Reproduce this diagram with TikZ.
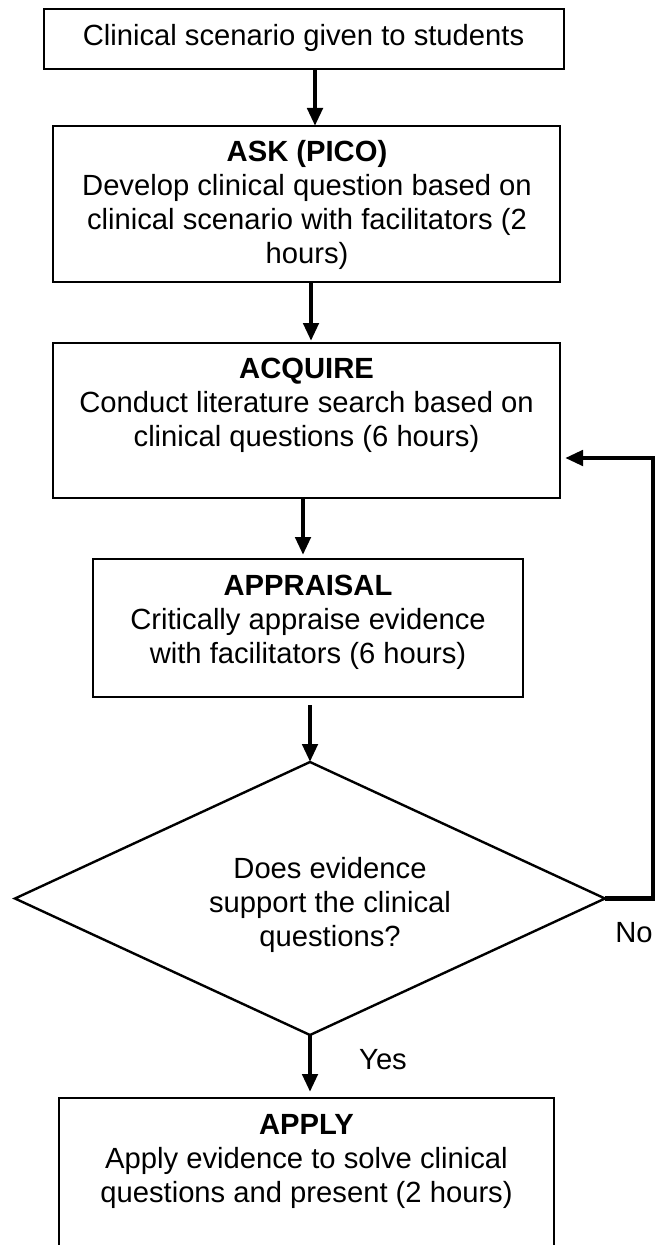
\documentclass[tikz,border=0pt]{standalone}
\usepackage{fontspec}
\setmainfont{Liberation Sans}
\usetikzlibrary{arrows.meta,shapes.geometric}
\begin{document}
\begin{tikzpicture}[x=0.75pt,y=-0.75pt,
  box/.style={draw,line width=1.5pt,inner sep=0pt,outer sep=0pt},
  txt/.style={align=center,inner sep=0pt,font=\fontsize{21.9pt}{25.5pt}\selectfont},
  arr/.style={line width=3.5pt,-{Triangle[length=13.5pt,width=11.25pt]}},
  fb/.style={line width=3.5pt,-{Triangle[length=13.5pt,width=11.25pt]}}]
\useasboundingbox (0,0) rectangle (656,1245);
\fill[white] (0,0) rectangle (656,1245);
\clip (0,0) rectangle (656,1245);

% boxes
\node[box,minimum width=390pt,minimum height=45pt] (b1) at (304,39) {};
\node[box,minimum width=380.25pt,minimum height=117pt] (b2) at (306.5,204) {};
\node[box,minimum width=380.25pt,minimum height=116.25pt] (b3) at (306.5,420.5) {};
\node[box,minimum width=322.5pt,minimum height=103.5pt] (b4) at (308,628) {};
\node[draw,line width=1.8pt,shape=diamond,inner sep=0pt,outer sep=0pt,
      minimum width=442.5pt,minimum height=204.75pt] (dia) at (310,898.5) {};
\node[box,minimum width=371.25pt,minimum height=151.5pt] (b5) at (306.5,1199) {};

% texts
\node[txt] (t1) at (303.5,38) {Clinical scenario given to students};
\node[txt] (t2) at (307,205) {\textbf{ASK (PICO)}\\Develop clinical question based on\\clinical scenario with facilitators (2\\hours)};
\node[txt] (t3) at (306.5,405) {\textbf{ACQUIRE}\\Conduct literature search based on\\clinical questions (6 hours)};
\node[txt] (t4) at (308,622) {\textbf{APPRAISAL}\\Critically appraise evidence\\with facilitators (6 hours)};
\node[txt] (td) at (330,905) {Does evidence\\support the clinical\\questions?};
\node[txt] (t5) at (306.5,1161) {\textbf{APPLY}\\Apply evidence to solve clinical\\questions and present (2 hours)};
\node[txt] (yes) at (383,1060) {Yes};
\node[txt] (no) at (634,933) {No};

% connectors
\draw[arr] ([xshift=8.25pt]b1.south) -- ([xshift=6.375pt]b2.north);
\draw[arr] ([xshift=3.375pt]b2.south) -- ([xshift=3.375pt,yshift=1.5pt]b3.north);
\draw[arr] ([xshift=-2.625pt]b3.south) -- ([xshift=-3.75pt,yshift=3pt]b4.north);
\draw[arr] ([xshift=1.5pt,yshift=-6pt]b4.south) -- (dia.north);
\draw[arr] (dia.south) -- ([xshift=2.625pt,yshift=4.5pt]b5.north);
\coordinate (fbc) at (653,898.5);
\coordinate (fbe) at (565,458);
\draw[fb] (dia.east) -- (fbc) |- (fbe);
\end{tikzpicture}
\end{document}
